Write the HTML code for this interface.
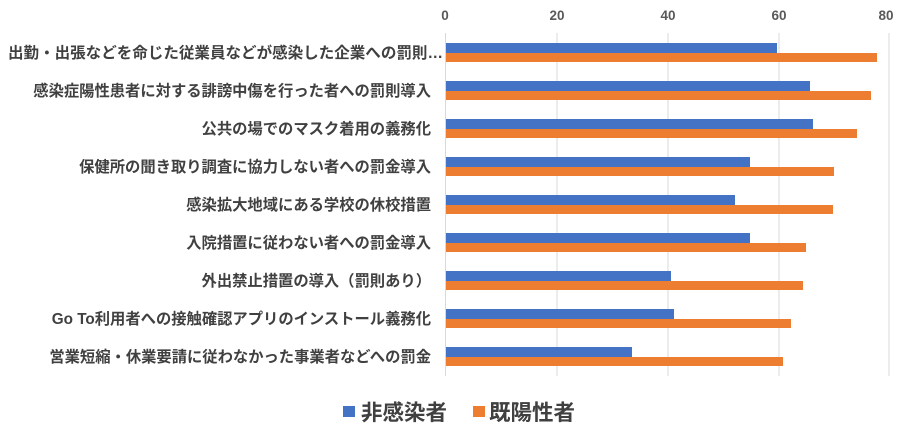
<!DOCTYPE html>
<html><head><meta charset="utf-8"><style>
body{margin:0;background:#fff}
svg{display:block;font-family:"Liberation Sans","Noto Sans CJK JP",sans-serif}
</style></head><body>
<svg width="900" height="433" viewBox="0 0 900 433">
<g stroke="#d9d9d9" stroke-width="1">
<line x1="445.5" y1="33" x2="445.5" y2="376"/>
<line x1="557" y1="33" x2="557" y2="376"/>
<line x1="668" y1="33" x2="668" y2="376"/>
<line x1="779" y1="33" x2="779" y2="376"/>
<line x1="889" y1="33" x2="889" y2="376"/>
</g>
<g fill="#595959" font-size="13.5" font-weight="bold" text-anchor="middle">
<text x="445" y="20">0</text><text x="557" y="20">20</text><text x="668" y="20">40</text><text x="779" y="20">60</text><text x="886" y="20">80</text>
</g>
<g fill="#4472c4">
<rect x="446" y="43" width="331" height="10"/>
<rect x="446" y="81" width="364" height="10"/>
<rect x="446" y="119" width="367" height="10"/>
<rect x="446" y="157" width="304" height="10"/>
<rect x="446" y="195" width="289" height="10"/>
<rect x="446" y="233" width="304" height="10"/>
<rect x="446" y="271" width="225" height="10"/>
<rect x="446" y="309" width="228" height="10"/>
<rect x="446" y="347" width="186" height="10"/>
</g>
<g fill="#ed7d31">
<rect x="446" y="53" width="431" height="9"/>
<rect x="446" y="91" width="425" height="9"/>
<rect x="446" y="129" width="411" height="9"/>
<rect x="446" y="167" width="388" height="9"/>
<rect x="446" y="205" width="387" height="9"/>
<rect x="446" y="243" width="360" height="9"/>
<rect x="446" y="281" width="357" height="9"/>
<rect x="446" y="319" width="345" height="9"/>
<rect x="446" y="357" width="337" height="9"/>
</g>
<g fill="#404040" font-size="15.3" font-weight="bold" text-anchor="end">
<text x="443" y="58" textLength="435" lengthAdjust="spacingAndGlyphs">出勤・出張などを命じた従業員などが感染した企業への罰則…</text>
<text x="431" y="96">感染症陽性患者に対する誹謗中傷を行った者への罰則導入</text>
<text x="431" y="134">公共の場でのマスク着用の義務化</text>
<text x="431" y="172">保健所の聞き取り調査に協力しない者への罰金導入</text>
<text x="431" y="210">感染拡大地域にある学校の休校措置</text>
<text x="431" y="248">入院措置に従わない者への罰金導入</text>
<text x="431" y="286">外出禁止措置の導入（罰則あり）</text>
<text x="431" y="324">Go To利用者への接触確認アプリのインストール義務化</text>
<text x="431" y="362">営業短縮・休業要請に従わなかった事業者などへの罰金</text>
</g>
<rect x="343" y="406" width="12" height="11" fill="#4472c4"/>
<rect x="473" y="406" width="12" height="11" fill="#ed7d31"/>
<g fill="#404040" font-size="21.5" font-weight="bold">
<text x="361" y="420">非感染者</text>
<text x="489" y="420">既陽性者</text>
</g>
</svg>
</body></html>
